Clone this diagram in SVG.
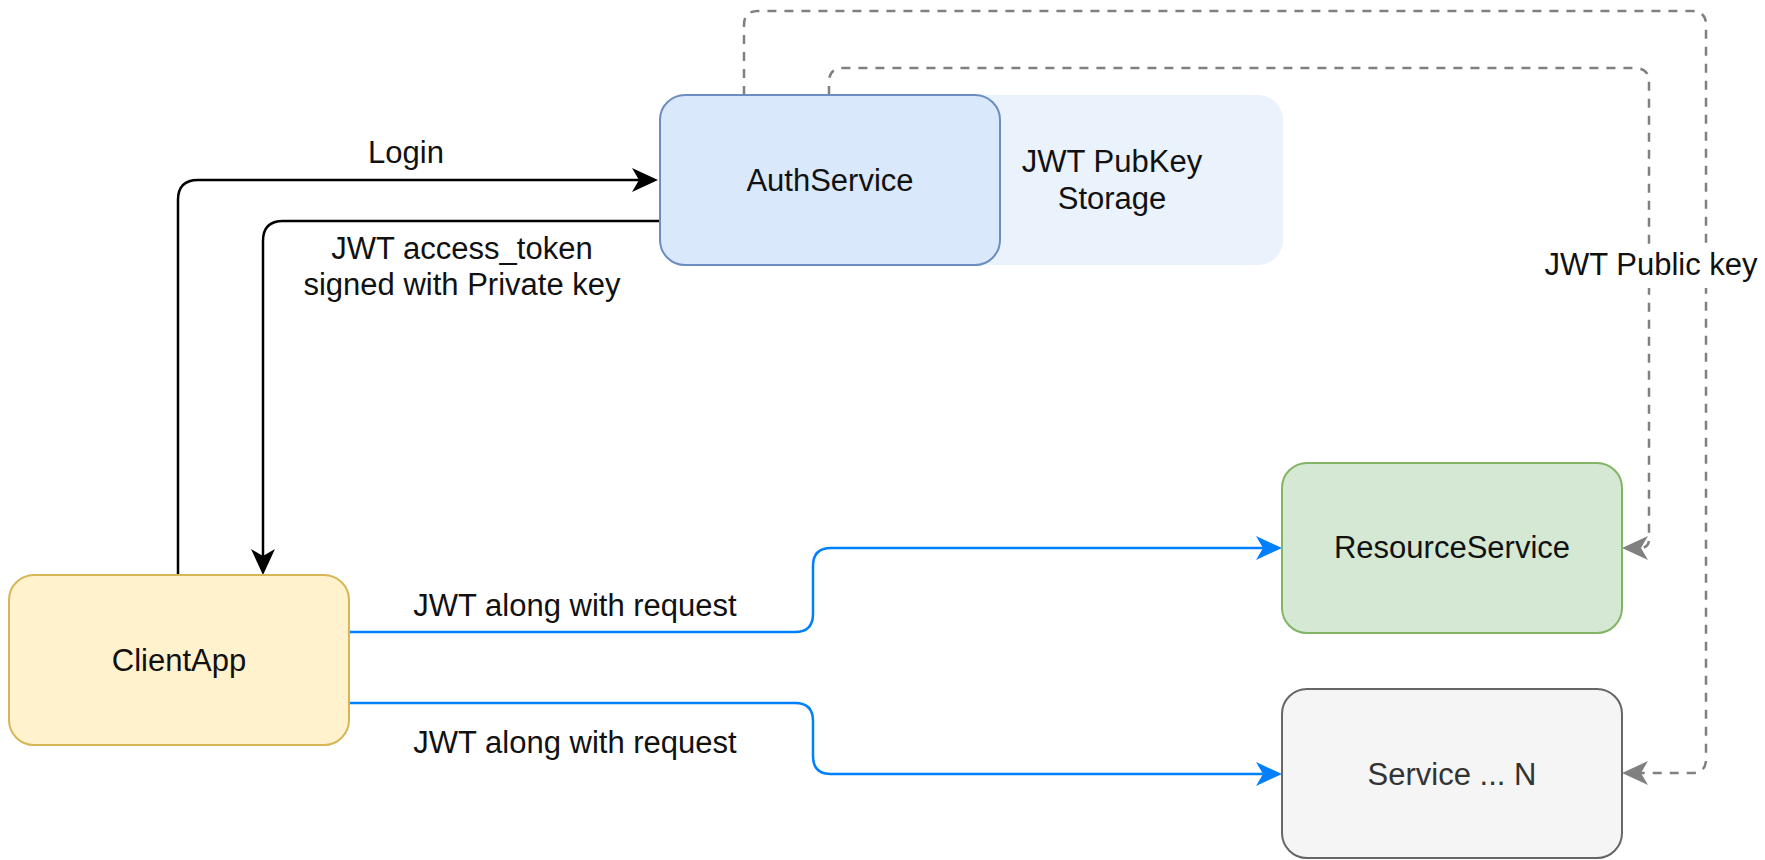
<svg xmlns="http://www.w3.org/2000/svg" width="1765" height="860" viewBox="0 0 1765 860">
  <style>
    .lbl { font-family: "Liberation Sans", Arial, sans-serif; font-size: 31px; fill: #111; text-anchor: middle; }
    .node { stroke-width: 2; }
    .conn { fill: none; stroke-linejoin: round; }
    .black { stroke: #000; stroke-width: 2.5; }
    .blue { stroke: #007FFF; stroke-width: 2.5; }
    .dash { stroke: #808080; stroke-width: 2.5; stroke-dasharray: 9 8; }
  </style>
  <defs>
    <marker id="arrowBlack" markerUnits="userSpaceOnUse" viewBox="0 0 26 24" markerWidth="26" markerHeight="24" refX="8" refY="12" orient="auto">
      <path d="M0,0 L26,12 L0,24 L7,12 Z" fill="#000"/>
    </marker>
    <marker id="arrowBlue" markerUnits="userSpaceOnUse" viewBox="0 0 26 24" markerWidth="26" markerHeight="24" refX="8" refY="12" orient="auto">
      <path d="M0,0 L26,12 L0,24 L7,12 Z" fill="#007FFF"/>
    </marker>
    <marker id="arrowGrey" markerUnits="userSpaceOnUse" viewBox="0 0 26 24" markerWidth="26" markerHeight="24" refX="8" refY="12" orient="auto">
      <path d="M0,0 L26,12 L0,24 L7,12 Z" fill="#808080"/>
    </marker>
  </defs>

  <rect width="1765" height="860" fill="#fff"/>

  <!-- key storage panel behind the auth service -->
  <g id="pubkey-storage">
    <rect x="900" y="95" width="383" height="170" rx="25" fill="#eaf2fc"/>
    <text class="lbl" x="1112" y="172">JWT PubKey</text>
    <text class="lbl" x="1112" y="209">Storage</text>
  </g>

  <!-- connectors -->
  <g id="connectors">
    <!-- Login -->
    <path class="conn black" d="M178,575 V200 Q178,180 198,180 H640" marker-end="url(#arrowBlack)"/>
    <!-- token back to client -->
    <path class="conn black" d="M660,221 H283 Q263,221 263,241 V557" marker-end="url(#arrowBlack)"/>
    <!-- requests -->
    <path class="conn blue" d="M349,632 H795 Q813,632 813,614 V566 Q813,548 831,548 H1264" marker-end="url(#arrowBlue)"/>
    <path class="conn blue" d="M349,703 H795 Q813,703 813,721 V756 Q813,774 831,774 H1264" marker-end="url(#arrowBlue)"/>
    <!-- public key distribution -->
    <path class="conn dash" d="M744,95 V25 Q744,11 758,11 H1692 Q1706,11 1706,25 V759 Q1706,773 1692,773 H1640" marker-end="url(#arrowGrey)"/>
    <path class="conn dash" d="M829,95 V82 Q829,68 843,68 H1635 Q1649,68 1649,82 V539 Q1649,548 1640,548" marker-end="url(#arrowGrey)"/>

    <!-- edge labels -->
    <text class="lbl" x="406" y="163">Login</text>
    <text class="lbl" x="462" y="259">JWT access_token</text>
    <text class="lbl" x="462" y="295">signed with Private key</text>
    <text class="lbl" x="575" y="616">JWT along with request</text>
    <text class="lbl" x="575" y="753">JWT along with request</text>
    <rect x="1540" y="247" width="222" height="41" fill="#fff"/>
    <text class="lbl" x="1651" y="275">JWT Public key</text>
  </g>

  <g id="auth-service">
    <rect class="node" x="660" y="95" width="340" height="170" rx="25" fill="#dae8fc" stroke="#6c8ebf"/>
    <text class="lbl" x="830" y="191">AuthService</text>
  </g>

  <g id="client-app">
    <rect class="node" x="9" y="575" width="340" height="170" rx="25" fill="#fff2cc" stroke="#d6b656"/>
    <text class="lbl" x="179" y="671">ClientApp</text>
  </g>

  <g id="resource-service">
    <rect class="node" x="1282" y="463" width="340" height="170" rx="25" fill="#d5e8d4" stroke="#82b366"/>
    <text class="lbl" x="1452" y="558">ResourceService</text>
  </g>

  <g id="service-n">
    <rect class="node" x="1282" y="689" width="340" height="169" rx="25" fill="#f5f5f5" stroke="#666666"/>
    <text class="lbl" x="1452" y="785" style="fill:#333">Service ... N</text>
  </g>
</svg>
